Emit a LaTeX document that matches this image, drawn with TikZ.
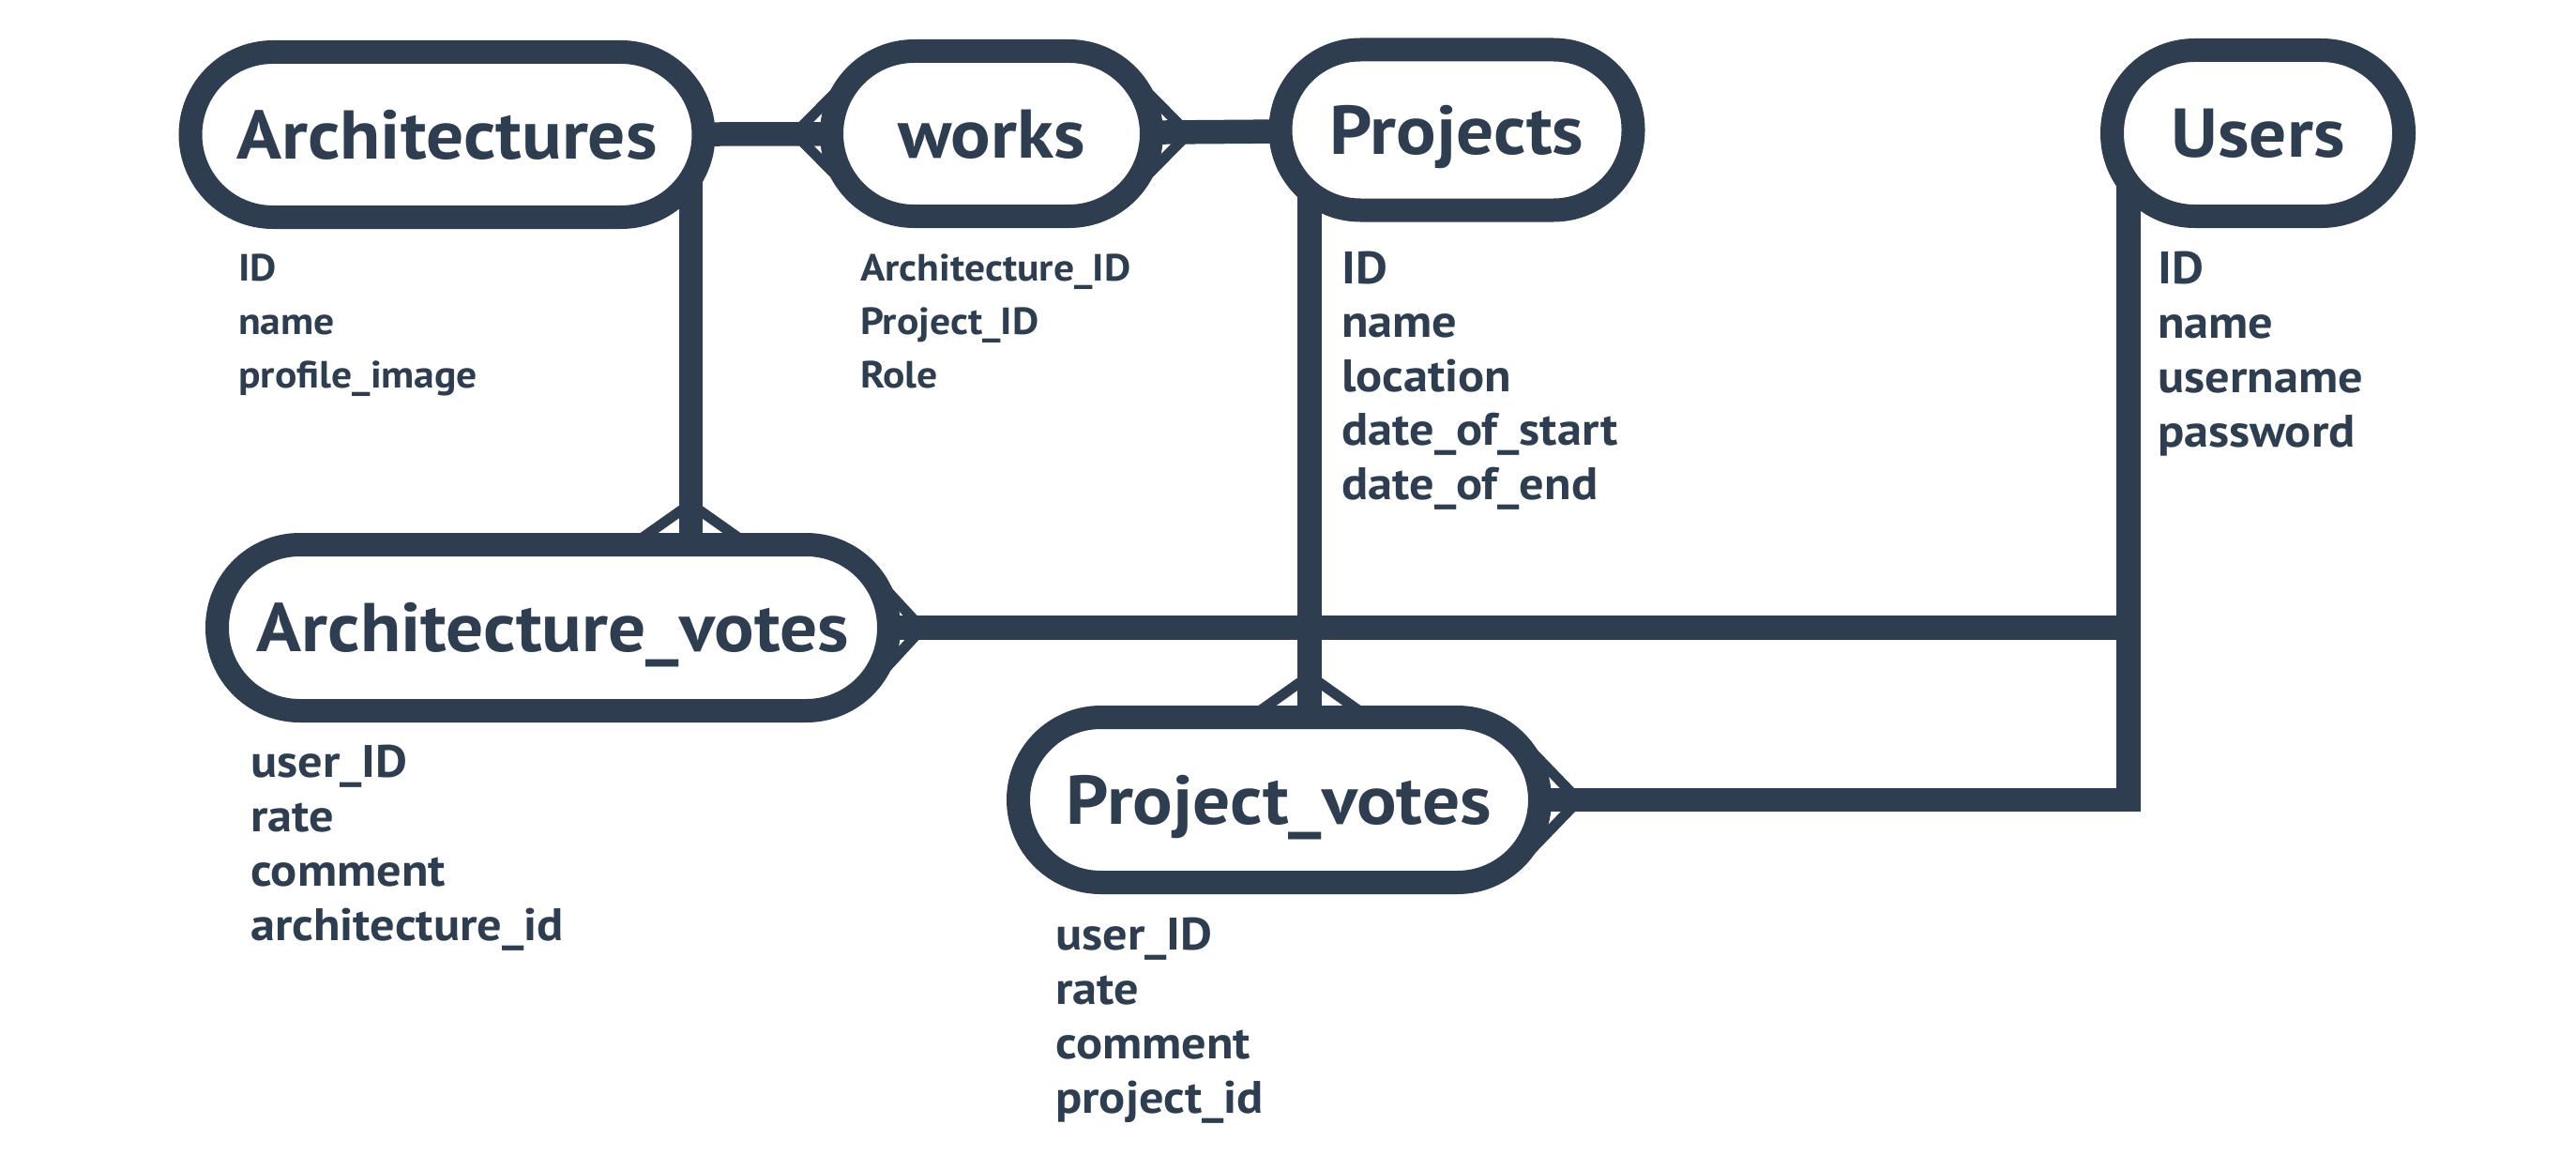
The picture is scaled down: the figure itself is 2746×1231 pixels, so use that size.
\documentclass[tikz,border=0pt]{standalone}
\usepackage{fontspec}
\setmainfont{PT Sans}[FakeStretch=1.08]
\usetikzlibrary{backgrounds,calc}
\definecolor{ink}{HTML}{2E3E50}
\begin{document}
\begin{tikzpicture}[x=1pt,y=-1pt,
  ent/.style={draw=ink, line width=25pt, fill=white, rounded corners=88pt,
    inner sep=0pt, text=ink, font=\bfseries\fontsize{73.5}{80}\selectfont,
    text height=51pt, text depth=0pt},
  attr/.style={text=ink, inner sep=0pt, anchor=base west,
    font=\bfseries\fontsize{48.5}{56}\selectfont},
  sattr/.style={attr, font=\bfseries\fontsize{40.4}{48}\selectfont},
  conn/.style={draw=ink, line width=25.5pt},
  foot/.style={draw=ink, line width=11pt}]
\useasboundingbox (0,0) rectangle (2746,1231);
% entities
\node[ent, minimum width=547pt, minimum height=176pt] (arch) at (476.5,143.5) {Architectures};
\node[ent, minimum width=341pt, minimum height=176pt] (works) at (1057,142.5) {works};
\node[ent, minimum width=376pt, minimum height=171pt, rounded corners=85pt] (proj) at (1553,138.5) {Projects};
\node[ent, minimum width=311pt, minimum height=177pt] (users) at (2407,142) {Users};
\node[ent, minimum width=716pt, minimum height=177pt] (av) at (589.5,669) {Architecture\_votes};
\node[ent, minimum width=556pt, minimum height=176pt] (pv) at (1363.5,852.5) {Project\_votes};
% attributes
\foreach \t [count=\i from 0] in {ID,name,profile\_image}
  \node[sattr] (archattr\i) at (254,299+57*\i) {\t};
\foreach \t [count=\i from 0] in {Architecture\_ID,Project\_ID,Role}
  \node[sattr] (worksattr\i) at (917,299+57*\i) {\t};
\foreach \t [count=\i from 0] in {ID,name,location,date\_of\_start,date\_of\_end}
  \node[attr] (projattr\i) at (1430,302+57.5*\i) {\t};
\foreach \t [count=\i from 0] in {ID,name,username,password}
  \node[attr] (userattr\i) at (2300,302+58*\i) {\t};
\foreach \t [count=\i from 0] in {user\_ID,rate,comment,architecture\_id}
  \node[attr] (avattr\i) at (267,828+58.3*\i) {\t};
\foreach \t [count=\i from 0] in {user\_ID,rate,comment,project\_id}
  \node[attr] (pvattr\i) at (1125,1012+58*\i) {\t};
% connection points
\coordinate (archdrop) at ($(arch.center)+(260,0)$);
\coordinate (projdrop) at ($(proj.center)+(-157,0)$);
\coordinate (usersdrop) at ($(users.center)+(-138,0)$);
\coordinate (wl) at ($(works.center)+(-210,0)$);
\coordinate (wr) at ($(works.center)+(210,0)$);
\coordinate (avt) at ($(av.center)+(146.5,-132)$);
\coordinate (avr) at ($(av.center)+(393.5,1)$);
\coordinate (pvt) at ($(pv.center)+(32.5,-132.5)$);
\coordinate (pvr) at ($(pv.center)+(319.5,0.5)$);
\begin{scope}[on background layer]
  \fill[white] (0,0) rectangle (2746,1231);
  % relationships
  \draw[conn] (arch.center) -- (works.center);
  \draw[conn] (works.center) -- (proj.center);
  \draw[conn] (archdrop) -- (archdrop |- av.center);
  \draw[conn] (projdrop) -- (projdrop |- pv.center);
  \draw[conn] (usersdrop) |- (pv.center);
  \draw[conn] (av.center) -- (av.center -| usersdrop);
  % crow's feet
  \draw[foot] ($(works.center)+(-152,-58.5)$) -- (wl) -- ($(works.center)+(-152,58.5)$);
  \draw[foot] ($(works.center)+(152,-58.5)$) -- (wr) -- ($(works.center)+(152,58.5)$);
  \draw[foot] ($(av.center)+(84.8,-88.5)$) -- (avt) -- ($(av.center)+(208.2,-88.5)$);
  \draw[foot] ($(av.center)+(345.5,-51)$) -- (avr) -- ($(av.center)+(345.5,53)$);
  \draw[foot] ($(pv.center)+(-30.1,-88)$) -- (pvt) -- ($(pv.center)+(95.1,-88)$);
  \draw[foot] ($(pv.center)+(264.5,-56.5)$) -- (pvr) -- ($(pv.center)+(264.5,57.5)$);
\end{scope}
\end{tikzpicture}
\end{document}
